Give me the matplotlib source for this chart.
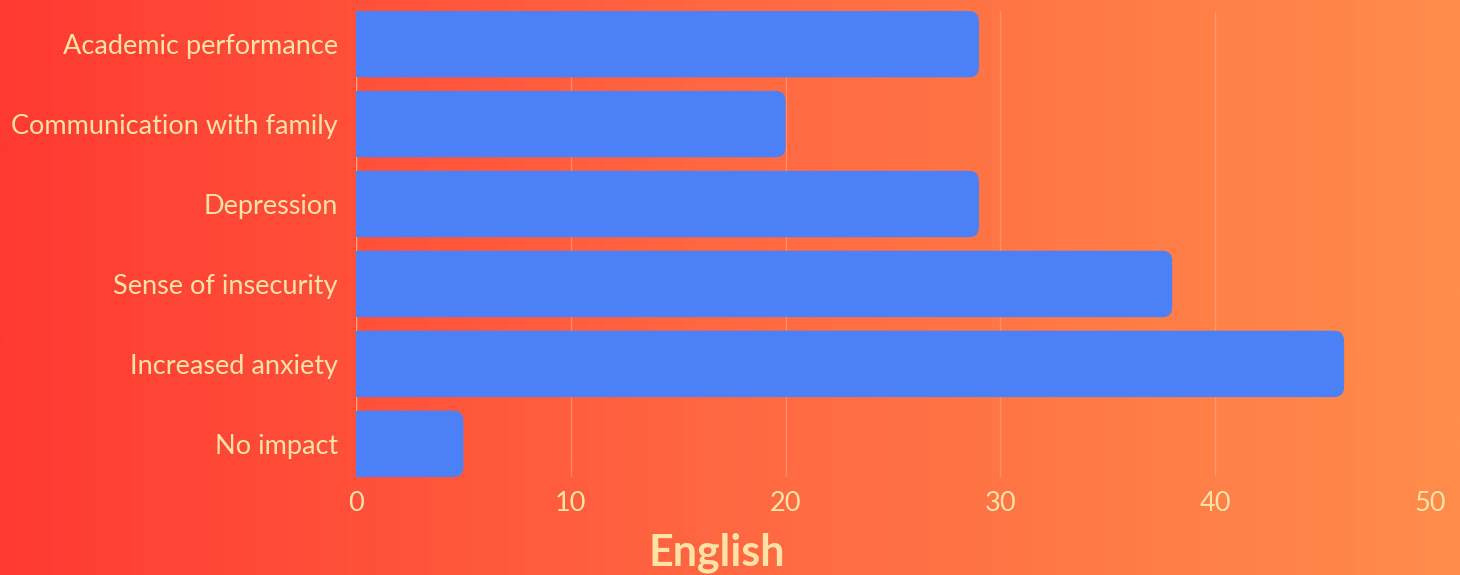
import numpy as np
import matplotlib
matplotlib.use("Agg")
import matplotlib.pyplot as plt
from matplotlib.colors import LinearSegmentedColormap
from matplotlib.patches import FancyBboxPatch, Rectangle

# data
categories = ["Academic performance", "Communication with family", "Depression",
              "Sense of insecurity", "Increased anxiety", "No impact"]
values = [29, 20, 29, 38, 46, 5]
xticks = [0, 10, 20, 30, 40, 50]
title = "English"

text_color = "#FFE2A6"
bar_color = "#4C80F6"
font = "Lato"

W, H = 14.6, 5.75
fig = plt.figure(figsize=(W, H), dpi=100)

# gradient background
bg = fig.add_axes([0, 0, 1, 1], zorder=-10)
cmap = LinearSegmentedColormap.from_list("bg", ["#FF3A32", "#FF6842", "#FF8C4B"])
grad = np.linspace(0, 1, 512).reshape(1, -1)
bg.imshow(grad, cmap=cmap, aspect="auto", extent=[0, 1, 0, 1])
bg.axis("off")

left, right = 356 / 1460, 1430 / 1460
bottom, top = 1 - 477 / 575, 1 - 11 / 575
ax = fig.add_axes([left, bottom, right - left, top - bottom])
ax.patch.set_alpha(0)

n = len(categories)
ypos = np.arange(n)
bar_h = 0.83
bars = ax.barh(ypos, values, height=bar_h, color=bar_color)
ax.set_xlim(0, 50)
ax.set_ylim(n - 1 + 0.415, -0.415)

# rounded right ends
ax_w_px = (right - left) * W * 100
ax_h_px = (top - bottom) * H * 100
px_x = ax_w_px / 50
px_y = ax_h_px / (n - 1 + 0.83)
r_px = 10
for b in bars:
    x0, y0, w, h = b.get_x(), b.get_y(), b.get_width(), b.get_height()
    b.set_visible(False)
    r = r_px / px_x
    ax.add_patch(FancyBboxPatch((x0, y0), w, h,
                                boxstyle=f"round,pad=0,rounding_size={r}",
                                mutation_aspect=px_x / px_y,
                                fc=bar_color, ec="none", zorder=3))
    ax.add_patch(Rectangle((x0, y0), min(w, 2 * r), h, fc=bar_color, ec="none", zorder=3))

ax.set_xticks(xticks)
ax.xaxis.grid(True, color="#FFB08A", linewidth=1, alpha=0.5, zorder=0)
ax.set_axisbelow(True)
for s in ax.spines.values():
    s.set_visible(False)
ax.axvline(0, color="#FFB08A", linewidth=1, alpha=0.7, zorder=0)

ax.set_yticks(ypos)
ax.set_yticklabels(categories)
ax.tick_params(axis="both", length=0, labelcolor=text_color, labelsize=19.5)
ax.tick_params(axis="y", pad=13)
ax.tick_params(axis="x", pad=10)
for lab in ax.get_xticklabels() + ax.get_yticklabels():
    lab.set_fontfamily(font)

fig.text(717 / 1460, 1 - 553 / 575, title, ha="center", va="center",
         fontsize=31, fontweight="bold", color=text_color, family=font)

fig.savefig("out.png", dpi=100)
